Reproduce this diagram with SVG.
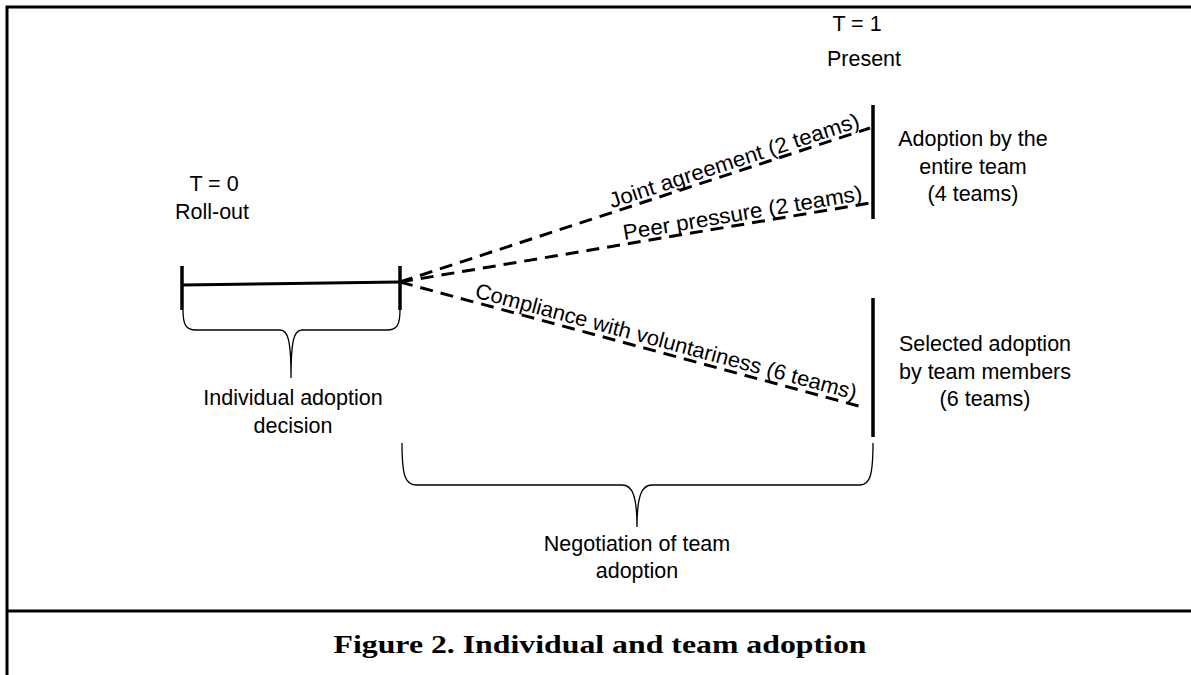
<svg xmlns="http://www.w3.org/2000/svg" width="1191" height="675" viewBox="0 0 1191 675">
<style>
.t{font-family:"Liberation Sans",Arial,sans-serif;font-size:21.5px;fill:#000;text-anchor:middle}
.l{font-family:"Liberation Sans",Arial,sans-serif;font-size:21.5px;fill:#000}
.cap{font-family:"Liberation Serif","Times New Roman",serif;font-size:26px;font-weight:bold;fill:#000;text-anchor:middle}
.frame{stroke:#000;stroke-width:3;fill:none}
.tick{stroke:#000;stroke-width:3.5;fill:none}
.solid{stroke:#000;stroke-width:3;fill:none}
.dash{stroke:#000;stroke-width:3;fill:none;stroke-dasharray:13 8}
.brace{stroke:#000;stroke-width:1.3;fill:none}
</style>
<rect width="1191" height="675" fill="#fff"/>
<g id="frame">
<path class="frame" d="M7,675 L7,7 L1191,7"/>
<path class="frame" d="M7,611 L1191,611"/>
</g>
<g id="t0">
<text class="t" x="214" y="191">T = 0</text>
<text class="t" x="212" y="219">Roll-out</text>
<line class="tick" x1="182" y1="266" x2="182" y2="310"/>
</g>
<g id="individual">
<line class="tick" x1="400" y1="266" x2="400" y2="310"/>
<path class="brace" d="M183,310 C183,325 186,330 196,330 L280,330 C288,330 291,340 291,378 C291,340 294,330 302,330 L387,330 C397,330 400,325 400,310"/>
<text class="t" x="293" y="405">Individual adoption</text>
<text class="t" x="293" y="433">decision</text>
</g>
<g id="t1">
<text class="t" x="857" y="31">T = 1</text>
<text class="t" x="864" y="66">Present</text>
</g>
<g id="entire">
<line class="tick" x1="873" y1="105" x2="873" y2="219"/>
<text class="t" x="973" y="146">Adoption by the</text>
<text class="t" x="973" y="174">entire team</text>
<text class="t" x="973" y="201">(4 teams)</text>
</g>
<g id="selected">
<line class="tick" x1="873" y1="298" x2="873" y2="437"/>
<text class="t" x="985" y="351">Selected adoption</text>
<text class="t" x="985" y="379">by team members</text>
<text class="t" x="985" y="406">(6 teams)</text>
</g>
<g id="negotiation">
<path class="brace" d="M402,443 C402,475 405,485 416,485 L622,485 C632,485 637,495 637,527 C637,495 642,485 652,485 L860,485 C870,485 873,475 873,443"/>
<text class="t" x="637" y="551">Negotiation of team</text>
<text class="t" x="637" y="578">adoption</text>
</g>
<g id="connectors">
<line class="solid" x1="182" y1="285" x2="400" y2="282"/>
<line class="dash" x1="400" y1="282" x2="870" y2="128"/>
<line class="dash" x1="400" y1="282" x2="870" y2="203"/>
<line class="dash" x1="400" y1="282" x2="866" y2="408"/>
<text class="l" transform="translate(613,212) rotate(-18.1)" y="-4" textLength="262" lengthAdjust="spacingAndGlyphs">Joint agreement (2 teams)</text>
<text class="l" transform="translate(625,244) rotate(-9.5)" y="-4" textLength="242" lengthAdjust="spacingAndGlyphs">Peer pressure (2 teams)</text>
<text class="l" transform="translate(473,301) rotate(15.1)" y="-4" textLength="394" lengthAdjust="spacingAndGlyphs">Compliance with voluntariness (6 teams)</text>
</g>
<g id="caption">
<text class="cap" x="600" y="653" textLength="533" lengthAdjust="spacingAndGlyphs">Figure 2. Individual and team adoption</text>
</g>
</svg>
